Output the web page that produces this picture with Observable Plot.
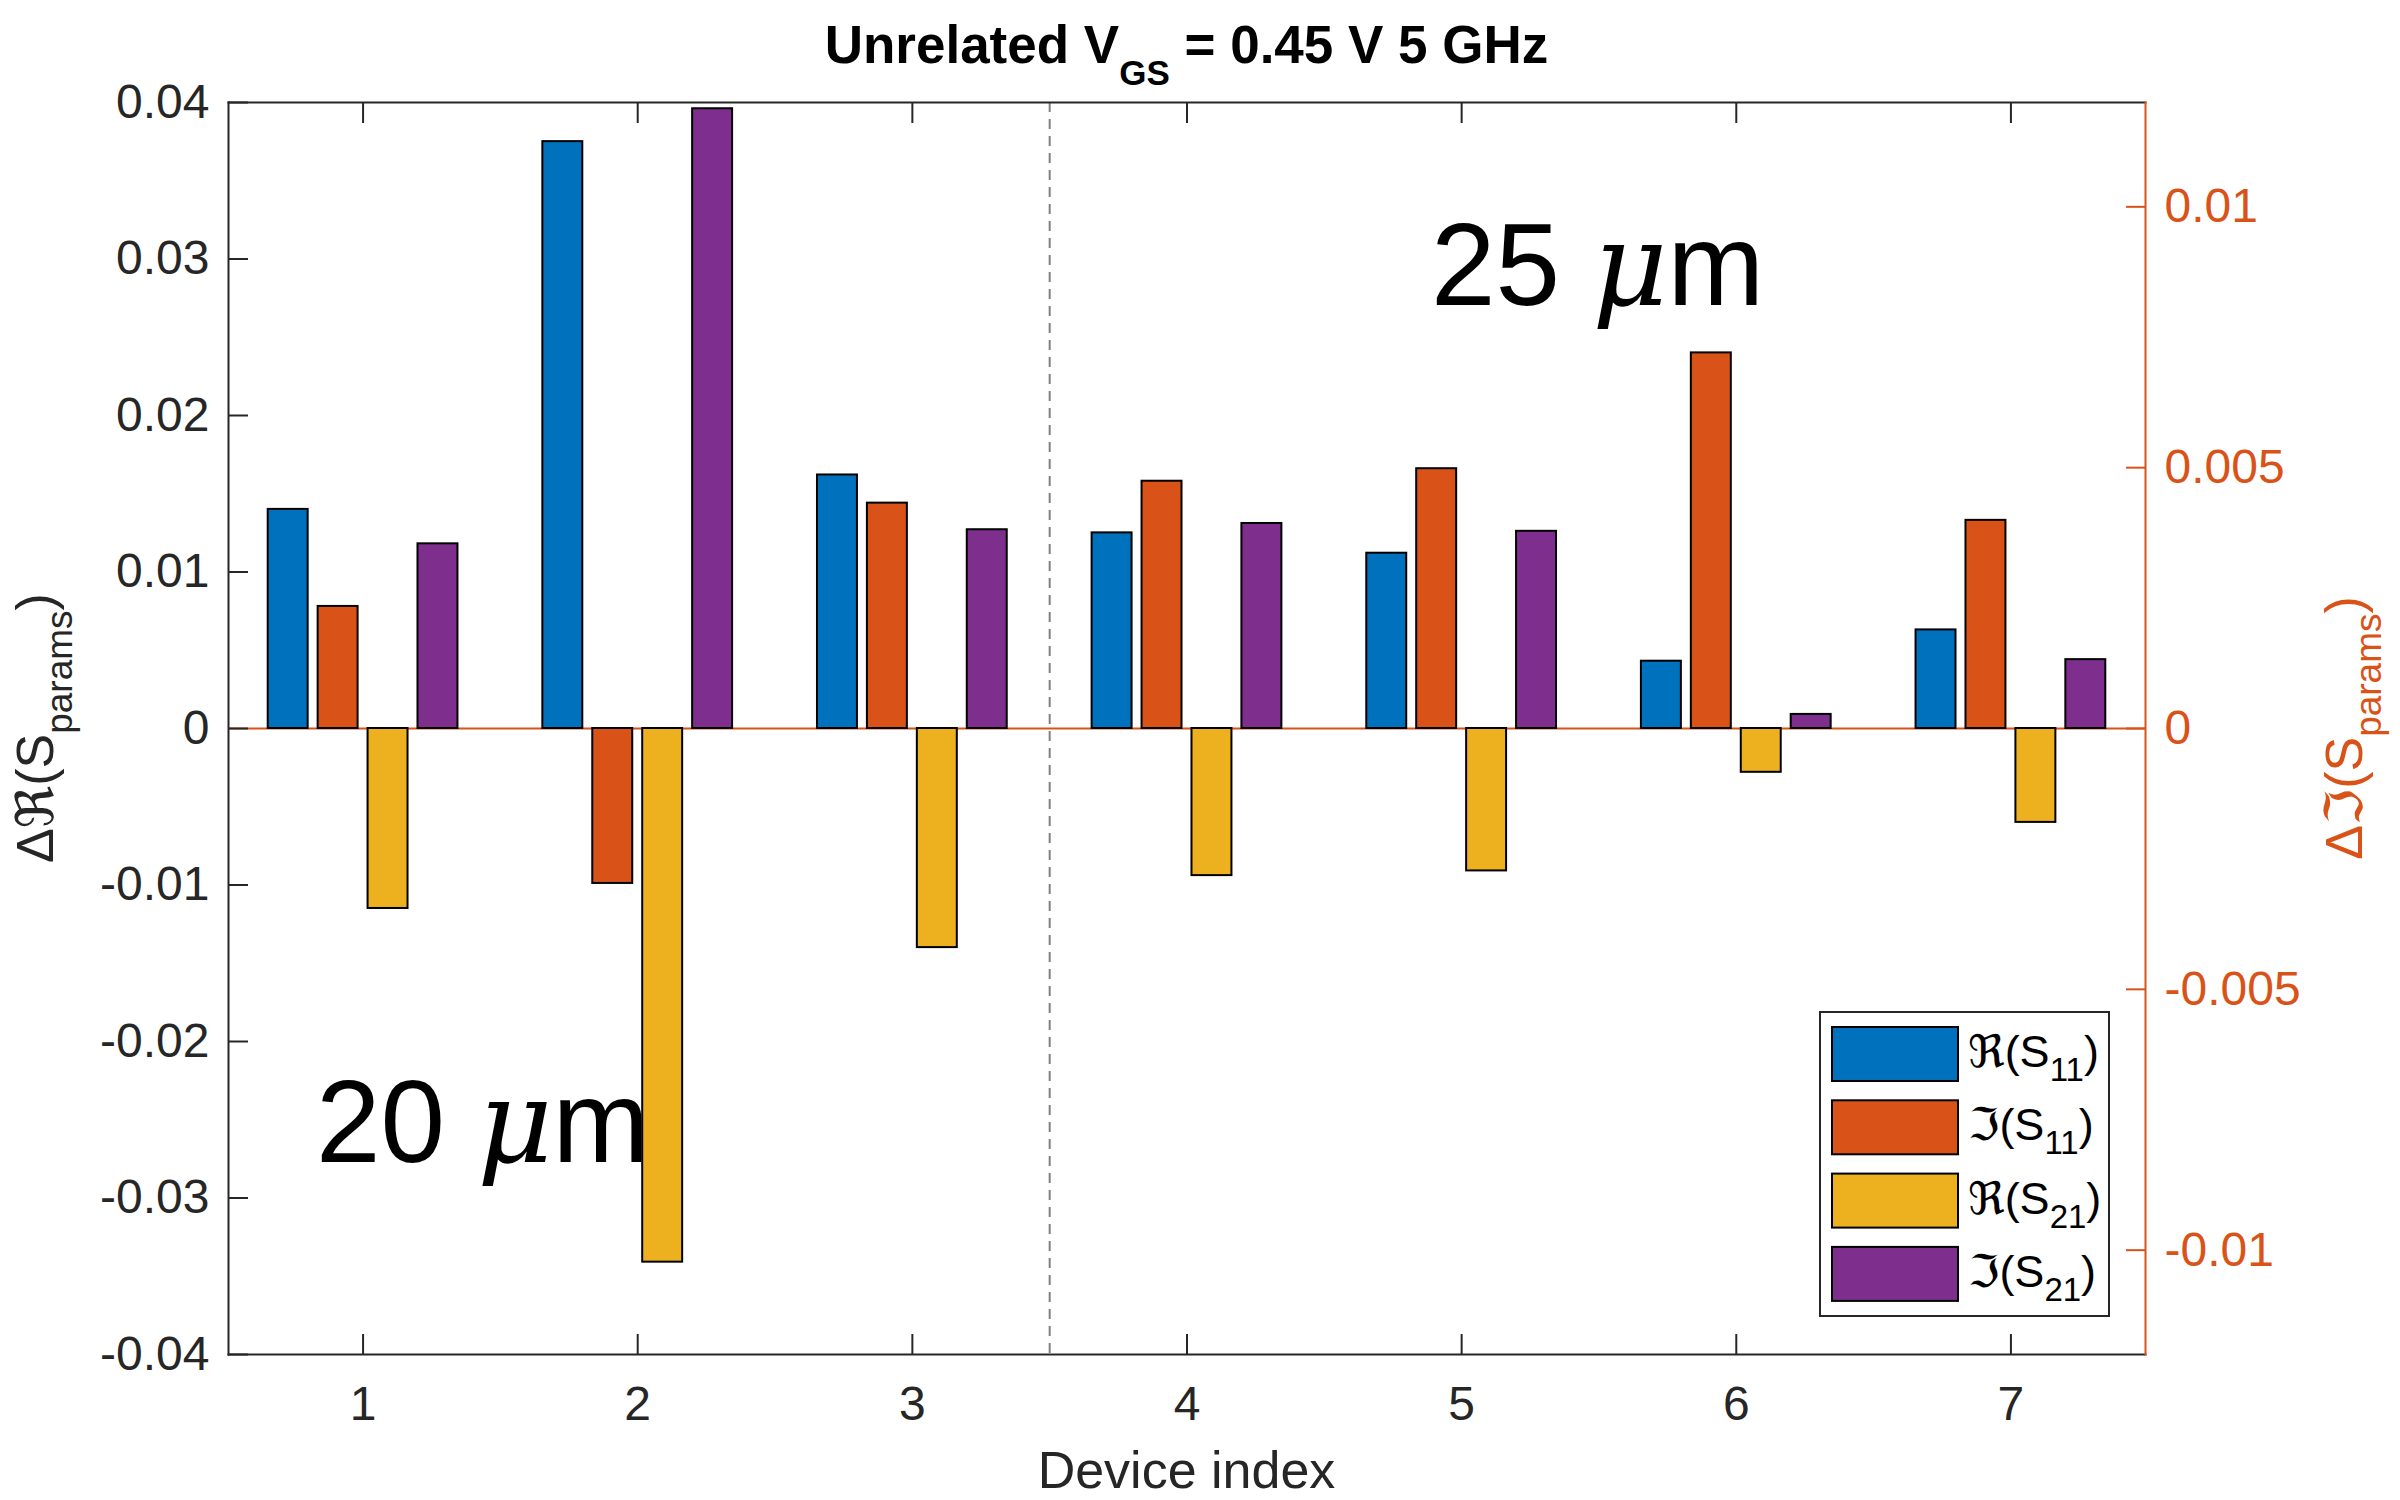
<!DOCTYPE html>
<html>
<head>
<meta charset="utf-8">
<script src="https://cdn.jsdelivr.net/npm/d3@7"></script>
<script src="https://cdn.jsdelivr.net/npm/@observablehq/plot@0.6"></script>
<style>
  html, body { margin: 0; padding: 0; background: #fff; overflow: hidden; }
  #chart svg { display: block; }
</style>
</head>
<body>
<div id="chart"></div>
<script>
// ---------------- data ----------------
const devices = [1, 2, 3, 4, 5, 6, 7];
const reS11 = [0.0140, 0.0375, 0.0162, 0.0125, 0.0112, 0.0043, 0.0063];
const imS11 = [0.0078, -0.0099, 0.0144, 0.0158, 0.0166, 0.0240, 0.0133];
const reS21 = [-0.0115, -0.0341, -0.0140, -0.0094, -0.0091, -0.0028, -0.0060];
const imS21 = [0.0118, 0.0396, 0.0127, 0.0131, 0.0126, 0.0009, 0.0044];
const seriesValues = [reS11, imS11, reS21, imS21];
const legendSymbols = ["ℜ", "ℑ", "ℜ", "ℑ"];
const legendSubs = ["11", "11", "21", "21"];
const colors = ["#0072BD", "#D95319", "#EDB120", "#7E2F8E"];

const yTicksLeft = [-0.04, -0.03, -0.02, -0.01, 0, 0.01, 0.02, 0.03, 0.04];
const yTicksRight = [-0.01, -0.005, 0, 0.005, 0.01];
const leftLimit = 0.04;
const rightLimit = 0.012;
const groupSplit = [3.5];

const titleParts = ["Unrelated V", "GS", " = 0.45 V 5 GHz"];
const xLabel = "Device index";
const yLabelLeft = ["Δℜ(S", "params", ")"];
const yLabelRight = ["Δℑ(S", "params", ")"];
const annotNumbers = ["20", "25"];
const annotX = [0.83, 4.89];
const annotY = [-0.0277, 0.0270];

// ---------------- layout ----------------
const orange = "#D95319";
const axisColor = "#262626";
const ratio = leftLimit / rightLimit;
const groupOffsets = [-0.2727, -0.0909, 0.0909, 0.2727];
const barWidth = 0.1455;

const rows = seriesValues.flatMap((vals, s) =>
  vals.map((v, i) => ({device: devices[i], s, value: v}))
);

const fmt = d => (Math.abs(d) < 1e-12 ? "0" : String(+d.toFixed(4)));

const chart = Plot.plot({
  width: 2400,
  height: 1500,
  marginLeft: 228,
  marginRight: 255,
  marginTop: 102,
  marginBottom: 146,
  style: {fontFamily: "'Liberation Sans', Arial, sans-serif", fontSize: "48px", color: axisColor, background: "white"},
  x: {domain: [0.51, 7.49]},
  y: {domain: [-leftLimit, leftLimit]},
  color: {type: "identity"},
  marks: [
    Plot.ruleX(groupSplit, {stroke: "#808080", strokeWidth: 2, strokeDasharray: "10,7"}),
    Plot.ruleY([0], {stroke: orange, strokeWidth: 2}),
    Plot.rectY(rows, {
      x1: d => d.device + groupOffsets[d.s] - barWidth / 2,
      x2: d => d.device + groupOffsets[d.s] + barWidth / 2,
      y1: 0,
      y2: "value",
      fill: d => colors[d.s],
      stroke: "#000",
      strokeWidth: 2
    }),
    // left axis
    Plot.axisY(yTicksLeft, {anchor: "left", tickSize: -20, fill: "none", stroke: axisColor, strokeWidth: 2, label: null}),
    Plot.axisY(yTicksLeft, {anchor: "left", tickSize: 0, tickPadding: 19, tickFormat: fmt, fill: axisColor, fontSize: 48, label: null}),
    // right axis (scaled)
    Plot.axisY(yTicksRight.map(v => v * ratio), {anchor: "right", tickSize: -20, fill: "none", stroke: orange, strokeWidth: 2, label: null}),
    Plot.axisY(yTicksRight.map(v => v * ratio), {anchor: "right", tickSize: 0, tickPadding: 19, tickFormat: d => fmt(d / ratio), fill: orange, fontSize: 48, label: null}),
    // x axis
    Plot.axisX(devices, {anchor: "bottom", tickSize: -20, fill: "none", stroke: axisColor, strokeWidth: 2, label: null}),
    Plot.axisX(devices, {anchor: "top", tickSize: -20, fill: "none", stroke: axisColor, strokeWidth: 2, label: null}),
    Plot.axisX(devices, {anchor: "bottom", tickSize: 0, tickPadding: 31, tickFormat: d => String(d), fill: axisColor, fontSize: 48, label: null}),
    // box
    Plot.frame({anchor: "left", stroke: axisColor, strokeWidth: 2}),
    Plot.frame({anchor: "top", stroke: axisColor, strokeWidth: 2}),
    Plot.frame({anchor: "bottom", stroke: axisColor, strokeWidth: 2}),
    Plot.frame({anchor: "right", stroke: orange, strokeWidth: 2})
  ]
});

document.getElementById("chart").appendChild(chart);

// ---------------- rich text (subscripts, italics) ----------------
const svg = d3.select(chart);
const xs = chart.scale("x");
const ys = chart.scale("y");
const [xl, xr] = xs.range;
const [yb, yt] = ys.range;
const xMid = (xl + xr) / 2;
const yMid = (yb + yt) / 2;
const FONT = "'Liberation Sans', Arial, 'DejaVu Sans', sans-serif";

function subText(node, main1, sub, main2, size, subSize, shift) {
  node.append("tspan").text(main1);
  node.append("tspan").attr("font-size", subSize).attr("dy", shift).text(sub);
  node.append("tspan").attr("font-size", size).attr("dy", -shift).text(main2);
}

// title
const title = svg.append("text")
  .attr("x", xMid).attr("y", 63)
  .attr("text-anchor", "middle")
  .attr("font-family", FONT).attr("font-weight", "bold")
  .attr("font-size", 53).attr("fill", "#000");
subText(title, titleParts[0], titleParts[1], titleParts[2], 53, 35, 22);

// x label
svg.append("text")
  .attr("x", xMid).attr("y", 1488)
  .attr("text-anchor", "middle")
  .attr("font-family", FONT).attr("font-size", 52).attr("fill", axisColor)
  .text(xLabel);

// y labels
const yl = svg.append("text")
  .attr("transform", `translate(53,${yMid}) rotate(-90)`)
  .attr("text-anchor", "middle")
  .attr("font-family", FONT).attr("font-size", 52).attr("fill", axisColor);
subText(yl, yLabelLeft[0], yLabelLeft[1], yLabelLeft[2], 52, 37, 19);

const yr = svg.append("text")
  .attr("transform", `translate(2362,${yMid}) rotate(-90)`)
  .attr("text-anchor", "middle")
  .attr("font-family", FONT).attr("font-size", 52).attr("fill", orange);
subText(yr, yLabelRight[0], yLabelRight[1], yLabelRight[2], 52, 37, 19);

// annotations
annotNumbers.forEach((n, i) => {
  const t = svg.append("text")
    .attr("x", xs.apply(annotX[i])).attr("y", ys.apply(annotY[i]))
    .attr("text-anchor", "start")
    .attr("font-family", FONT).attr("font-size", 116).attr("fill", "#000");
  t.append("tspan").text(n + " ");
  t.append("tspan").attr("font-family", "'DejaVu Serif', 'Liberation Serif', serif").attr("font-style", "italic").text("μ");
  t.append("tspan").text("m");
});

// legend
const lg = svg.append("g");
lg.append("rect")
  .attr("x", 1820).attr("y", 1012).attr("width", 289).attr("height", 304)
  .attr("fill", "white").attr("stroke", axisColor).attr("stroke-width", 2);
legendSymbols.forEach((sym, i) => {
  const cy = 1054 + i * 73.3;
  lg.append("rect")
    .attr("x", 1832).attr("y", cy - 27).attr("width", 126).attr("height", 54)
    .attr("fill", colors[i]).attr("stroke", "#000").attr("stroke-width", 2);
  const t = lg.append("text")
    .attr("x", 1968).attr("y", cy + 13)
    .attr("text-anchor", "start")
    .attr("font-family", FONT).attr("font-size", 45).attr("fill", "#000");
  subText(t, sym + "(S", legendSubs[i], ")", 45, 33, 14);
});
</script>
</body>
</html>
